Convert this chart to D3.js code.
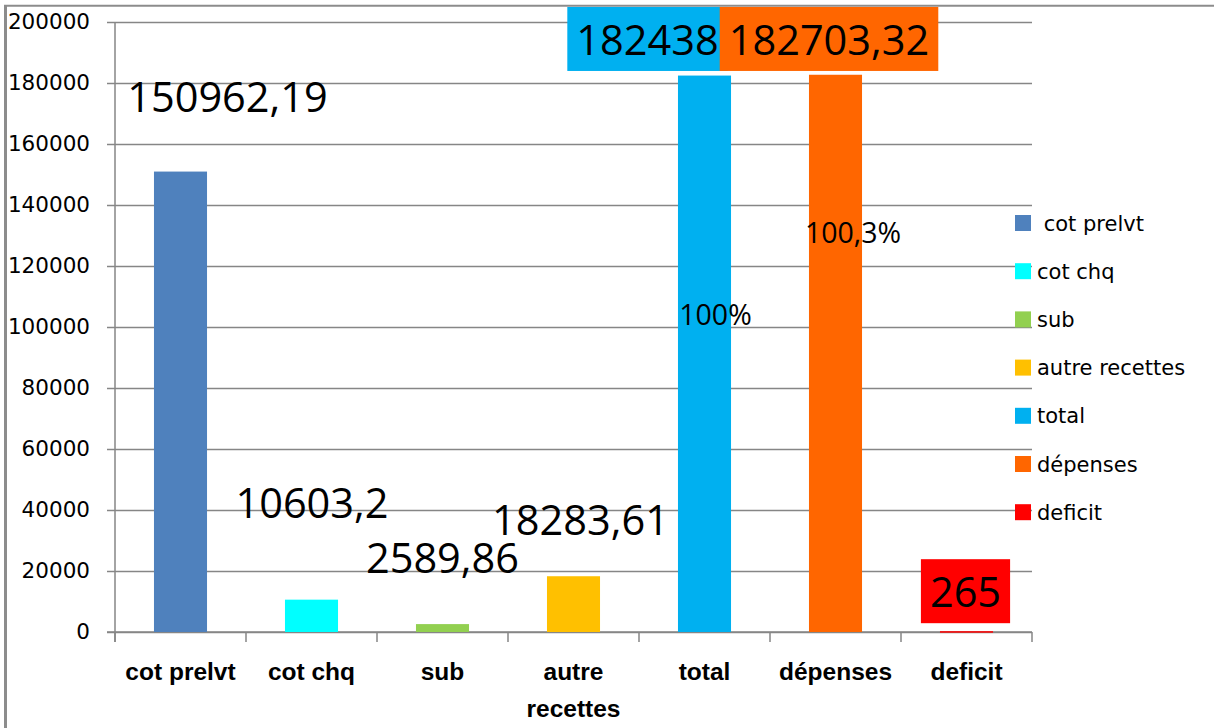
<!DOCTYPE html>
<html>
<head>
<meta charset="utf-8">
<script src="https://cdn.jsdelivr.net/npm/d3@7"></script>
<style>
  html, body { margin: 0; padding: 0; background: #fff; }
  svg { display: block; }
  text { white-space: pre; }
</style>
</head>
<body>
<svg width="1214" height="728"></svg>
<script>
// data
const categories = ["cot prelvt", "cot chq", "sub", "autre recettes", "total", "dépenses", "deficit"];
const values = [150962.19, 10603.2, 2589.86, 18283.61, 182438, 182703.32, 265];
const valueLabels = ["150962,19", "10603,2", "2589,86", "18283,61", "182438", "182703,32", "265"];
const percentLabels = [null, null, null, null, "100%", "100,3%", null];
const legendLabels = [" cot prelvt", "cot chq", "sub", "autre recettes", "total", "dépenses", "deficit"];
const yTicks = [0, 20000, 40000, 60000, 80000, 100000, 120000, 140000, 160000, 180000, 200000];

// styles / manual label placement (as in the original, labels were dragged around)
const colors = ["#4F81BD", "#00FFFF", "#92D050", "#FFC000", "#00B0F0", "#FF6600", "#FF0000"];
const labelDx = [47, 0.5, 0, 7, -57, -6.5, -1];
const labelDy = [-59.6, -81.7, -51, -41, -20.6, -19.8, -24];
const labelBoxed = [false, false, false, false, true, true, true];
const pctDx = [0, 0, 0, 0, 11, 17.5, 0];
const pctDy = [0, 0, 0, 0, 249.4, 168.2, 0];

const svg = d3.select("svg");
const gridColor = "#868686";

// outer frame
svg.append("line").attr("x1", 5.5).attr("x2", 5.5).attr("y1", 5).attr("y2", 728)
  .attr("stroke", "#8c8c8c").attr("stroke-width", 3);
svg.append("line").attr("x1", 4).attr("x2", 1214).attr("y1", 5.7).attr("y2", 5.7)
  .attr("stroke", "#8c8c8c").attr("stroke-width", 2);

const mLeft = 115, mRight = 1032, mTop = 22, mBottom = 632;

const x = d3.scaleBand().domain(categories).range([mLeft, mRight]);
const y = d3.scaleLinear().domain([0, 200000]).range([mBottom, mTop]);
const bw = x.bandwidth();
const barW = bw * 0.405;

// gridlines + y axis
const yAxis = svg.append("g")
  .attr("transform", `translate(${mLeft},0)`)
  .call(d3.axisLeft(y).tickValues(yTicks).tickFormat(d3.format("d"))
    .tickSize(-(mRight - mLeft)).tickSizeOuter(0).tickPadding(25));
yAxis.select(".domain").remove();
yAxis.selectAll(".tick line")
  .attr("x1", -8)
  .attr("stroke", gridColor).attr("stroke-width", 1.3);
yAxis.selectAll(".tick text")
  .attr("font-family", "DejaVu Sans").attr("font-size", 21.5).attr("fill", "#000");
// y axis line
svg.append("line").attr("x1", mLeft).attr("x2", mLeft).attr("y1", mTop).attr("y2", mBottom + 10)
  .attr("stroke", gridColor).attr("stroke-width", 1.5);

// x axis
const xAxis = svg.append("g")
  .attr("transform", `translate(0,${mBottom})`)
  .call(d3.axisBottom(x).tickSize(0).tickFormat(""));
xAxis.select(".domain").attr("stroke", gridColor).attr("stroke-width", 1.5)
  .attr("d", `M${mLeft - 8},0H${mRight}`);
xAxis.selectAll(".tick").remove();
const bounds = categories.map(c => x(c)).concat([mRight]);
xAxis.selectAll(".sep").data(bounds).join("line")
  .attr("x1", d => d).attr("x2", d => d).attr("y1", 0).attr("y2", 10)
  .attr("stroke", gridColor).attr("stroke-width", 1.5);

// category labels (wrapped)
const catG = svg.append("g");
categories.forEach(c => {
  const words = c === "autre recettes" ? ["autre", "recettes"] : [c];
  const t = catG.append("text")
    .attr("x", x(c) + bw / 2).attr("y", 680)
    .attr("text-anchor", "middle")
    .attr("font-family", "Liberation Sans").attr("font-weight", "bold")
    .attr("font-size", 24.5).attr("fill", "#000");
  words.forEach((w, i) => {
    t.append("tspan").attr("x", x(c) + bw / 2).attr("dy", i === 0 ? 0 : 37).text(w);
  });
});

// bars
svg.append("g").selectAll("rect")
  .data(values)
  .join("rect")
  .attr("x", (d, i) => x(categories[i]) + (bw - barW) / 2)
  .attr("width", barW)
  .attr("y", d => y(d))
  .attr("height", d => Math.max(mBottom - y(d), 1.5))
  .attr("fill", (d, i) => colors[i]);

// percentage labels
svg.append("g").selectAll("text")
  .data(values.map((v, i) => i).filter(i => percentLabels[i]))
  .join("text")
  .attr("x", i => x(categories[i]) + bw / 2 + pctDx[i])
  .attr("y", i => y(values[i]) + pctDy[i])
  .attr("text-anchor", "middle")
  .attr("font-family", "Open Sans").attr("font-size", 28.5).attr("fill", "#000")
  .text(i => percentLabels[i]);

// value labels
const lblG = svg.append("g");
values.forEach((v, i) => {
  const cx = x(categories[i]) + bw / 2 + labelDx[i];
  const by = y(v) + labelDy[i];
  const g = lblG.append("g");
  const t = g.append("text")
    .attr("x", cx).attr("y", by)
    .attr("text-anchor", "middle")
    .attr("font-family", "Open Sans").attr("font-size", 41.5).attr("fill", "#000")
    .text(valueLabels[i]);
  if (labelBoxed[i]) {
    const bb = t.node().getBBox();
    g.insert("rect", "text")
      .attr("x", bb.x - 9).attr("y", by - 48)
      .attr("width", bb.width + 18).attr("height", 64)
      .attr("fill", colors[i]);
  }
});

// legend
const leg = svg.append("g").attr("transform", "translate(1015,223)");
const rows = leg.selectAll("g").data(legendLabels).join("g")
  .attr("transform", (d, i) => `translate(0,${i * 48.2})`);
rows.append("rect").attr("x", 0).attr("y", -8).attr("width", 16).attr("height", 16)
  .attr("fill", (d, i) => colors[i]);
rows.append("text").attr("x", 22).attr("y", 7.5)
  .attr("font-family", "DejaVu Sans").attr("font-size", 21).attr("fill", "#000")
  .text(d => d);
</script>
</body>
</html>
